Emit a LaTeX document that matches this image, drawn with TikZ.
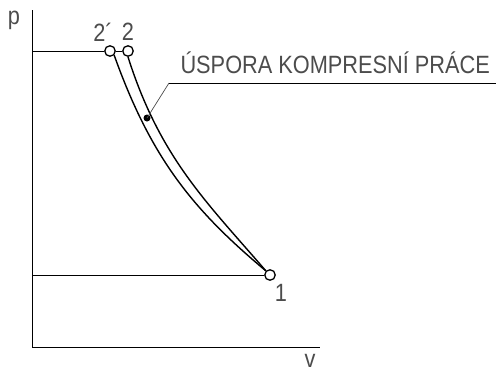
\documentclass[tikz,border=0pt]{standalone}
\usepackage{fontspec}
\setmainfont{Liberation Sans}
\begin{document}
\begin{tikzpicture}[x=1pt,y=-1pt,
  ax/.style={line width=0.9pt},
  crv/.style={line width=1.4pt},
  pt/.style={circle,draw,line width=1.3pt,minimum size=10.5pt,inner sep=0pt,fill=white},
  lbl/.style={text=black!70,font=\fontsize{25}{25}\selectfont\addfontfeatures{FakeStretch=0.87}}]
\useasboundingbox (0,0) rectangle (496,372);
\coordinate (ytop) at (32,10);
\coordinate (orig) at (32,347);
\coordinate (xend) at (320,347);
\draw[ax] (ytop) -- (orig) -- (xend);
\node[lbl] (plab) at (14,20) {p};
\node[lbl] (vlab) at (310,361) {v};
\node[pt] (p2a) at (110,51) {};
\node[pt] (p2) at (128,51) {};
\node[pt] (p1) at (270,275) {};
\coordinate (y2) at (32,51);
\coordinate (y1) at (32,275);
\draw[ax] (y2) -- (p2a);
\draw[ax] (p2a) -- (p2);
\draw[ax] (y1) -- (p1);
\draw[crv] (p2a.south east) .. controls (151,158) and (192.5,209.5) .. (p1.north west);
\draw[crv] (p2.south) .. controls (160,158) and (207,202.5) .. (p1.north west);
\node[lbl] (l2a) at (103,32) {2´};
\node[lbl] (l2) at (128,32) {2};
\node[lbl] (l1) at (281,293) {1};
\fill (147,118) circle (3.5pt) coordinate (dot);
\coordinate (knee) at (169,83);
\coordinate (lend) at (496,83);
\draw[line width=0.7pt,black!70] (dot) -- (knee);
\draw[ax] (knee) -- (lend);
\node[lbl,anchor=west] (txt) at (177,63) {ÚSPORA KOMPRESNÍ PRÁCE};
\end{tikzpicture}
\end{document}
